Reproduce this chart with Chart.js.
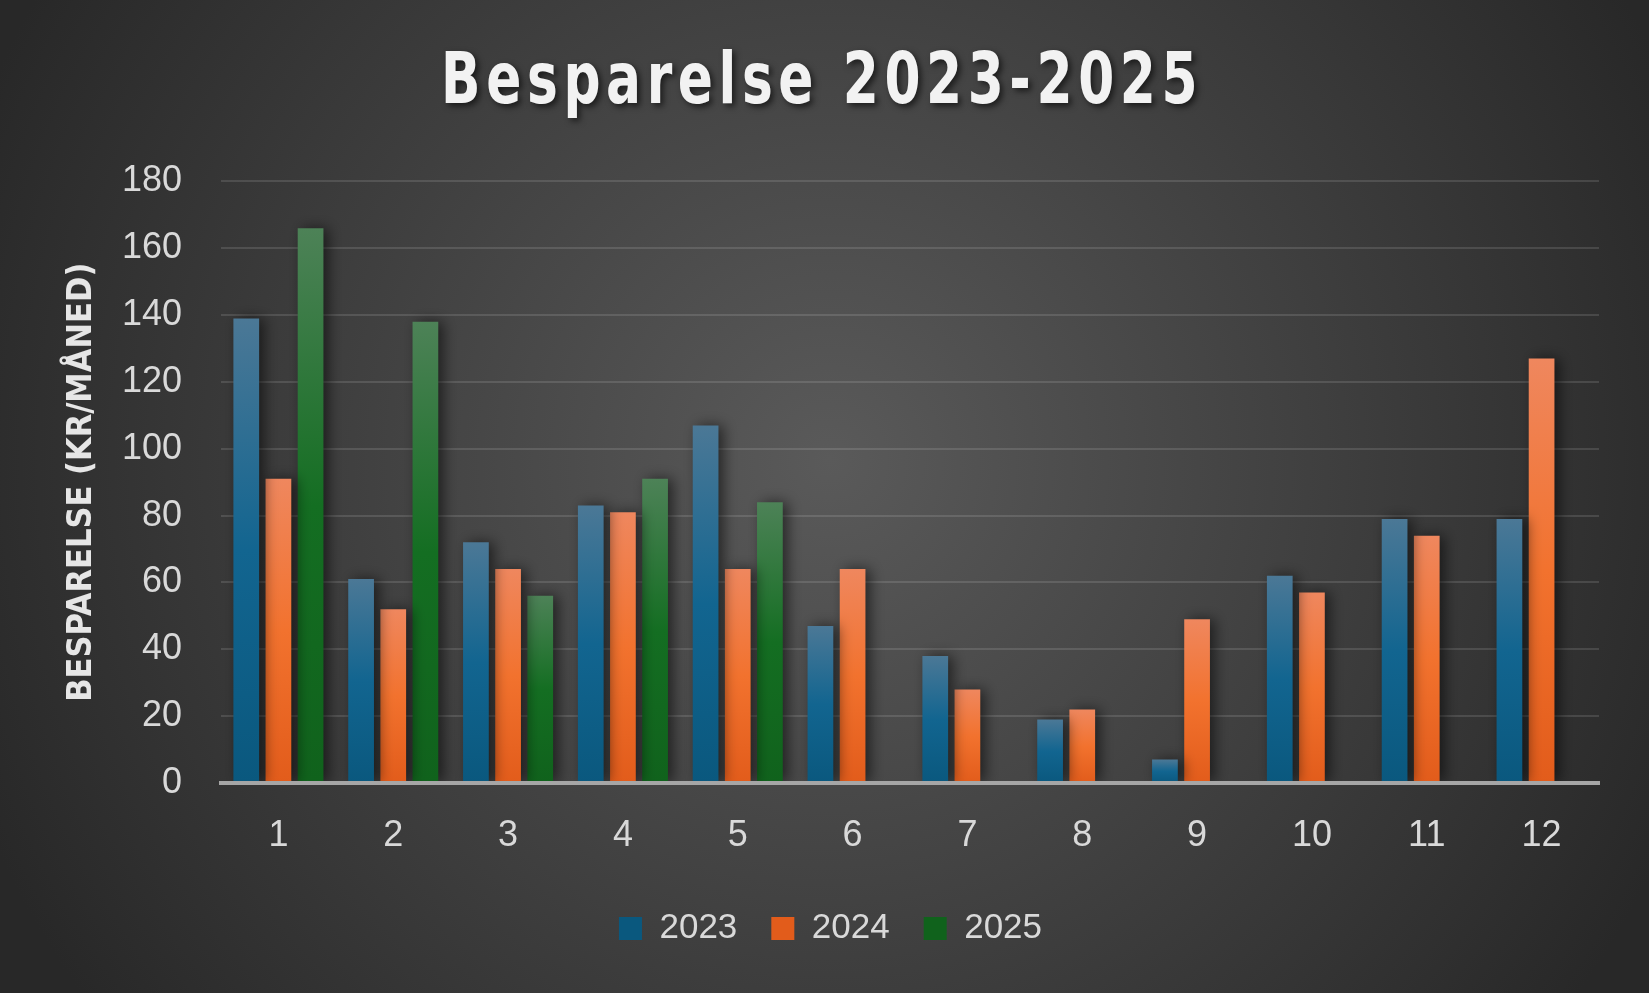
<!DOCTYPE html>
<html>
<head>
<meta charset="utf-8">
<script src="https://cdn.jsdelivr.net/npm/chart.js@4.4.1/dist/chart.umd.min.js"></script>
<style>
    html, body { margin: 0; padding: 0; background: #2b2b2b; }
    #wrap { width: 1649px; height: 993px; position: relative; }
</style>
</head>
<body>
<div id="wrap"><canvas id="besparelseChart"></canvas></div>
<script>
// Data
const months = ['1', '2', '3', '4', '5', '6', '7', '8', '9', '10', '11', '12'];
const savings2023 = [139, 61, 72, 83, 107, 47, 38, 19, 7, 62, 79, 79];
const savings2024 = [91, 52, 64, 81, 64, 64, 28, 22, 49, 57, 74, 127];
const savings2025 = [166, 138, 56, 91, 84, null, null, null, null, null, null, null];
const yTicks = [0, 20, 40, 60, 80, 100, 120, 140, 160, 180];

const titleText = 'Besparelse 2023-2025';
const yTitleText = 'BESPARELSE (KR/MÅNED)';

const condensed = "'DejaVu Sans Condensed', 'DejaVu Sans', sans-serif";
const plain = "'Liberation Sans', Arial, sans-serif";

// vertical gradient per bar (light top, deep bottom)
function barFill(top, mid, bottom) {
    return function (context) {
        const chart = context.chart;
        const { ctx, chartArea, scales } = chart;
        if (!chartArea) return mid;
        let y0, y1;
        if (context.type === 'data') {
            if (context.raw == null) return mid;
            y0 = scales.y.getPixelForValue(context.raw);
            y1 = scales.y.getPixelForValue(0);
        } else {
            // legend box
            const lg = chart.legend;
            if (!lg || typeof lg.top !== 'number') return mid;
            y0 = lg.top + lg.height / 2 - 12;
            y1 = y0 + 24;
        }
        if (!isFinite(y0) || !isFinite(y1) || y1 - y0 < 1) return mid;
        const g = ctx.createLinearGradient(0, y0, 0, y1);
        g.addColorStop(0, top);
        g.addColorStop(0.5, mid);
        g.addColorStop(1, bottom);
        return g;
    };
}

// dark radial backdrop + narrow, spaced title
const backdrop = {
    id: 'backdrop',
    afterLayout(chart) {
        // legend sits a little right of centre in the original
        if (chart.legend) {
            chart.legend.left += 9;
            chart.legend.right += 9;
        }
    },
    beforeDraw(chart) {
        const { ctx, width, height } = chart;
        const g = ctx.createRadialGradient(830, 460, 0, 830, 460, 920);
        g.addColorStop(0, '#5a5a5a');
        g.addColorStop(1, '#282828');
        ctx.save();
        ctx.fillStyle = g;
        ctx.fillRect(0, 0, width, height);
        ctx.restore();

        const tb = chart.titleBlock;
        if (tb && !tb._patched) {
            const orig = tb.draw.bind(tb);
            tb.draw = function () {
                const c = this.ctx;
                const cx = (this.left + this.right) / 2 + 3;
                c.save();
                c.letterSpacing = '7px';
                c.shadowColor = 'rgba(0,0,0,0.6)';
                c.shadowBlur = 6;
                c.shadowOffsetX = 3;
                c.shadowOffsetY = 3;
                c.translate(cx, 0);
                c.scale(0.8, 1);
                c.translate(-cx, 0);
                orig();
                c.restore();
            };
            tb._patched = true;
        }
    }
};

// soft shadows behind the bars
const barShadow = {
    id: 'barShadow',
    beforeDatasetsDraw(chart) {
        const ctx = chart.ctx;
        ctx.save();
        ctx.shadowColor = 'rgba(0,0,0,0.55)';
        ctx.shadowBlur = 14;
        ctx.shadowOffsetX = 5;
        ctx.shadowOffsetY = 0;
    },
    afterDatasetsDraw(chart) {
        chart.ctx.restore();
    }
};

const ctx = document.getElementById('besparelseChart').getContext('2d');
const chart = new Chart(ctx, {
    type: 'bar',
    data: {
        labels: months,
        datasets: [
            { label: '2023', data: savings2023, backgroundColor: barFill('#4b7896', '#126590', '#0a587e') },
            { label: '2024', data: savings2024, backgroundColor: barFill('#ef875e', '#f2722e', '#e25c1b') },
            { label: '2025', data: savings2025, backgroundColor: barFill('#4d8257', '#146e22', '#10621c') }
        ]
    },
    options: {
        responsive: true,
        maintainAspectRatio: false,
        animation: false,
        devicePixelRatio: 1,
        categoryPercentage: 0.84,
        barPercentage: 0.8,
        layout: { padding: { top: 0, left: 44, right: 50, bottom: 37 } },
        plugins: {
            title: {
                display: true,
                text: titleText,
                color: '#f2f2f2',
                font: { family: condensed, size: 72, weight: 'bold' },
                padding: { top: 41, bottom: 54 }
            },
            legend: {
                position: 'bottom',
                labels: {
                    color: '#d9d9d9',
                    font: { family: plain, size: 35 },
                    boxWidth: 23,
                    boxHeight: 23,
                    padding: 34
                }
            },
            tooltip: { enabled: false }
        },
        scales: {
            x: {
                grid: { display: false },
                border: { display: true, color: '#a6a6a6', width: 4, z: 1 },
                ticks: { color: '#d9d9d9', font: { family: plain, size: 36 }, padding: 23 },
                afterFit(scale) { scale.height = 94; }
            },
            y: {
                min: 0,
                max: 180,
                afterBuildTicks(scale) { scale.ticks = yTicks.map(v => ({ value: v })); },
                grid: { color: 'rgba(255,255,255,0.12)', lineWidth: 2, drawTicks: false },
                border: { display: false },
                ticks: { color: '#d9d9d9', font: { family: plain, size: 36 }, padding: 39 },
                title: {
                    display: true,
                    text: yTitleText,
                    color: '#e6e6e6',
                    font: { family: condensed, size: 34, weight: 'bold' },
                    padding: { top: 18, bottom: 18 }
                },
                afterFit(scale) { scale.width = 177; }
            }
        }
    },
    plugins: [backdrop, barShadow]
});
</script>
</body>
</html>
